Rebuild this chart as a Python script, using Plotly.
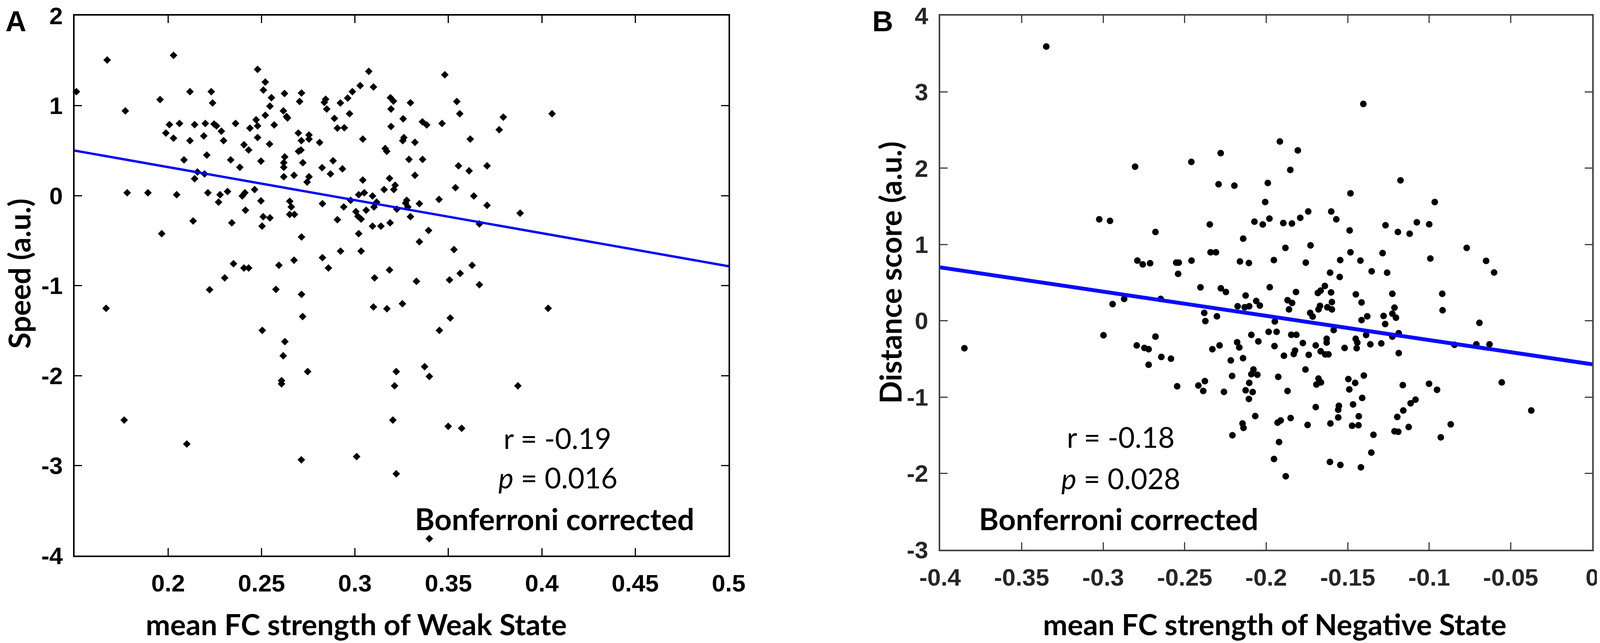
import plotly.graph_objects as go

# ---------------- panel A : mean FC strength of Weak State vs Speed ----------------
weak_fc = [
    0.1674, 0.2029, 0.2479, 0.3074, 0.2520, 0.3028, 0.3099, 0.1509, 0.2117, 0.2231,
    0.2510, 0.2623, 0.2714, 0.2986, 0.1957, 0.2553, 0.2704, 0.2843, 0.2836, 0.2961,
    0.2922, 0.2238, 0.1771, 0.2545, 0.2849, 0.2520, 0.2617, 0.2634, 0.2639, 0.2971,
    0.2890, 0.2007, 0.2061, 0.2142, 0.2199, 0.2246, 0.2259, 0.2361, 0.2438, 0.2471,
    0.2479, 0.2568, 0.2906, 0.2943, 0.1988, 0.2029, 0.2191, 0.2117, 0.2285, 0.2297,
    0.2479, 0.2697, 0.2754, 0.2754, 0.2713, 0.2811, 0.3042, 0.2543, 0.2406, 0.2431,
    0.2698, 0.2711, 0.3162, 0.3170, 0.2207, 0.2085, 0.2335, 0.2497, 0.2624, 0.2619,
    0.2619, 0.2721, 0.2883, 0.2384, 0.2824, 0.2933, 0.2869, 0.2142, 0.2157, 0.2195,
    0.2619, 0.2674, 0.2754, 0.2744, 0.3042, 0.3156, 0.2463, 0.1781, 0.1892, 0.2046,
    0.2213, 0.2278, 0.2318, 0.2397, 0.2411, 0.3020, 0.3050, 0.3094, 0.2270, 0.2497,
    0.2651, 0.2659, 0.2826, 0.2940, 0.2977, 0.3102, 0.3116, 0.3060, 0.2414, 0.3005,
    0.2651, 0.2676, 0.3016, 0.3033, 0.2509, 0.2545, 0.2503, 0.2134, 0.2341, 0.2906,
    0.3094, 0.3139, 0.1966, 0.2714, 0.3020, 0.2923, 0.3033, 0.2826, 0.2858, 0.2674,
    0.2593, 0.2350, 0.2406, 0.2431, 0.2303, 0.3105, 0.2222, 0.2577, 0.2714,
    0.3481, 0.3190, 0.3206, 0.3297, 0.3545, 0.3193, 0.3561, 0.4055, 0.3258, 0.3794,
    0.3361, 0.3384, 0.3466, 0.3193, 0.3772, 0.3262, 0.3256, 0.3321, 0.3617, 0.3289,
    0.3362, 0.3554, 0.3611, 0.3707, 0.3321, 0.3185, 0.3215, 0.3208, 0.3538, 0.3636,
    0.3450, 0.3277, 0.3271, 0.3345, 0.3283, 0.3224, 0.3707, 0.3884, 0.3297, 0.3188,
    0.3666, 0.3394, 0.3345, 0.3530, 0.3627, 0.3185, 0.3329, 0.3506, 0.3563, 0.3666,
    0.1668, 0.3099, 0.3171, 0.3254, 0.4034, 0.2720, 0.3510, 0.2504, 0.3452, 0.2625,
    0.2616, 0.3373, 0.2747, 0.3221, 0.3398, 0.2607, 0.2607, 0.3212, 0.3872, 0.1765,
    0.3203, 0.3499, 0.3571, 0.2100, 0.2713, 0.3009, 0.3221, 0.3398,
]
speed = [
    1.506, 1.559, 1.402, 1.381, 1.261, 1.222, 1.207, 1.155, 1.155, 1.155,
    1.172, 1.134, 1.140, 1.155, 1.067, 1.088, 1.046, 1.071, 1.036, 1.084,
    1.029, 1.029, 0.941, 0.994, 0.962, 0.893, 0.941, 0.879, 0.862, 0.910,
    0.858, 0.789, 0.801, 0.789, 0.801, 0.795, 0.774, 0.801, 0.749, 0.843,
    0.774, 0.785, 0.749, 0.754, 0.695, 0.638, 0.663, 0.611, 0.716, 0.611,
    0.645, 0.695, 0.674, 0.628, 0.611, 0.590, 0.628, 0.573, 0.565, 0.506,
    0.492, 0.506, 0.523, 0.492, 0.450, 0.397, 0.397, 0.383, 0.429, 0.366,
    0.314, 0.366, 0.387, 0.314, 0.310, 0.297, 0.241, 0.188, 0.262, 0.241,
    0.209, 0.226, 0.209, 0.151, 0.172, 0.067, 0.067, 0.031, 0.031, 0.010,
    0.031, 0.010, 0.046, -0.004, 0.031, 0.010, 0.031, -0.004, -0.073, -0.059,
    -0.063, -0.126, -0.090, -0.126, -0.052, -0.126, -0.073, -0.163, -0.163, -0.178,
    -0.209, -0.209, -0.230, -0.261, -0.234, -0.247, -0.339, -0.282, -0.303, -0.268,
    -0.339, -0.339, -0.423, -0.460, -0.423, -0.617, -0.617, -0.690, -0.805, -0.718,
    -0.774, -0.757, -0.805, -0.805, -0.914, -0.914, -1.046, -1.042, -1.098,
    1.343, 1.088, 1.050, 1.031, 1.046, 0.962, 0.910, 0.910, 0.854, 0.872,
    0.820, 0.785, 0.801, 0.768, 0.732, 0.644, 0.611, 0.592, 0.628, 0.402,
    0.402, 0.331, 0.276, 0.331, 0.226, 0.192, 0.115, 0.067, 0.088, -0.004,
    -0.042, -0.052, -0.084, -0.090, -0.126, -0.151, -0.109, -0.195, -0.234, -0.303,
    -0.314, -0.387, -0.513, -0.600, -0.774, -0.826, -0.952, -0.937, -0.864, -0.990,
    -1.253, -1.238, -1.257, -1.202, -1.253, -1.344, -1.360, -1.498, -1.498, -1.623,
    -1.780, -1.901, -1.956, -1.956, -2.010, -2.056, -2.092, -2.114, -2.114, -2.495,
    -2.495, -2.564, -2.586, -2.760, -2.936, -2.900, -3.091, -3.812,
]
fit_a_x = [0.15, 0.5]
fit_a_y = [0.50, -0.785]

# ---------------- panel B : mean FC strength of Negative State vs Distance score ----------------
neg_fc = [
    -0.3349, -0.1404, -0.1916, -0.1806, -0.2279, -0.2459, -0.2804, -0.1852, -0.1176, -0.2292,
    -0.2195, -0.1990, -0.1483, -0.2006, -0.0966, -0.1742, -0.1601, -0.3024, -0.2958, -0.1980,
    -0.1791, -0.1570, -0.2346, -0.2072, -0.2021, -0.1895, -0.1842, -0.1268, -0.1076, -0.1000,
    -0.2679, -0.1488, -0.1192, -0.1120, -0.2141,
    -0.2341, -0.2308, -0.2790, -0.2757, -0.2712, -0.2552, -0.2536, -0.2540, -0.2458, -0.2161,
    -0.2106, -0.2403, -0.2278, -0.2247, -0.2126, -0.2061, -0.2039, -0.2871, -0.2942, -0.2647,
    -0.2175, -0.2132, -0.2104, -0.2380, -0.2373, -0.2302, -0.2998, -0.2679, -0.2794, -0.2747,
    -0.2721, -0.2643, -0.2584, -0.2721, -0.3851, -0.2330, -0.2286, -0.2178, -0.2165, -0.2091,
    -0.2048, -0.2217, -0.2142, -0.2078, -0.2091, -0.2054, -0.2209, -0.2104, -0.2546, -0.2416,
    -0.2376, -0.2386, -0.2259, -0.2126, -0.2083, -0.2106, -0.2067, -0.2145, -0.2139, -0.2207,
    -0.1882, -0.1728, -0.0770, -0.1953, -0.1757, -0.1546, -0.1483, -0.1422, -0.1286, -0.0993,
    -0.0651, -0.0602, -0.1608, -0.1549, -0.1353, -0.1258, -0.1978, -0.1817, -0.1683, -0.1666,
    -0.1640, -0.1602, -0.1450, -0.1226, -0.0920, -0.1869, -0.1841, -0.1860, -0.1730, -0.1715,
    -0.1679, -0.1670, -0.1625, -0.1597, -0.1597, -0.1415, -0.1213, -0.1226, -0.1204, -0.1280,
    -0.1270, -0.1415, -0.1380, -0.0918, -0.0692, -0.1947, -0.1985, -0.1936, -0.1846, -0.1815,
    -0.1586, -0.1387, -0.1187, -0.1226, -0.1949, -0.1775, -0.1696, -0.1629, -0.1629, -0.1666,
    -0.1638, -0.1618, -0.1519, -0.1451, -0.1441, -0.1445, -0.1361, -0.1294, -0.1187, -0.1891,
    -0.1831, -0.1823, -0.1739, -0.0845, -0.0711, -0.0630, -0.1759, -0.1926, -0.1679, -0.1692,
    -0.1664, -0.1496, -0.1454, -0.1401, -0.1490, -0.1869, -0.1411, -0.1162, -0.1001, -0.0952,
    -0.0555, -0.1696, -0.1554, -0.1558, -0.1558, -0.1467, -0.1432, -0.1473, -0.1434, -0.1606,
    -0.1746, -0.1850, -0.1930, -0.1911, -0.1921, -0.1952, -0.1880, -0.1609, -0.1545, -0.1419,
    -0.1355, -0.1342, -0.1213, -0.1190, -0.1196, -0.1159, -0.1114, -0.1084, -0.1126, -0.0929,
    -0.0868, -0.0374,
]
distance = [
    3.594, 2.842, 2.350, 2.233, 2.198, 2.082, 2.020, 1.977, 1.841, 1.790,
    1.771, 1.806, 1.670, 1.557, 1.557, 1.433, 1.433, 1.330, 1.310, 1.339,
    1.349, 1.330, 1.262, 1.300, 1.262, 1.281, 1.275, 1.252, 1.291, 1.265,
    1.164, 1.184, 1.164, 1.141, 1.077,
    0.898, 0.898, 0.789, 0.739, 0.755, 0.762, 0.762, 0.615, 0.789, 0.778,
    0.757, 0.438, 0.426, 0.377, 0.331, 0.259, 0.200, 0.286, 0.218, 0.286,
    0.191, 0.177, 0.191, 0.104, -0.004, 0.059, -0.190, -0.208, -0.322, -0.356,
    -0.372, -0.474, -0.496, -0.576, -0.360, -0.372, -0.322, -0.281, -0.349, -0.184,
    -0.270, -0.519, -0.490, -0.639, -0.700, -0.707, -0.723, -0.814, -0.859, -0.848,
    -0.791, -0.920, -0.932, -0.911, -0.934, -1.025, -1.249, -1.346, -1.403, -1.501,
    0.955, 0.989, 0.955, 0.796, 0.762, 0.796, 0.898, 0.789, 0.887, 0.816,
    0.785, 0.633, 0.630, 0.574, 0.649, 0.630, 0.440, 0.377, 0.365, 0.395,
    0.456, 0.372, 0.347, 0.354, 0.354, 0.270, 0.234, 0.150, 0.104, 0.055,
    0.150, 0.195, 0.177, 0.245, 0.150, 0.240, 0.172, 0.093, 0.041, 0.064,
    -0.043, 0.009, 0.059, 0.138, -0.027, -0.009, -0.145, -0.145, -0.183, -0.183,
    -0.122, -0.186, -0.163, -0.208, -0.331, -0.292, -0.322, -0.236, -0.285, -0.399,
    -0.440, -0.440, -0.356, -0.236, -0.285, -0.360, -0.308, -0.297, -0.424, -0.458,
    -0.435, -0.390, -0.446, -0.315, -0.308, -0.308, -0.639, -0.734, -0.757, -0.836,
    -0.807, -0.764, -0.814, -0.718, -0.900, -0.920, -1.011, -0.843, -0.825, -0.904,
    -0.807, -1.131, -1.115, -1.165, -1.267, -1.097, -1.251, -1.376, -1.369, -1.346,
    -1.365, -1.274, -1.335, -1.306, -1.589, -1.811, -2.038, -1.850, -1.890, -1.920,
    -1.727, -1.494, -1.448, -1.455, -1.260, -1.176, -1.081, -1.034, -1.392, -1.528,
    -1.358, -1.176,
]
fit_b_x = [-0.4, 0.0]
fit_b_y = [0.70, -0.57]

# tick labels
a_xticks = [0.2, 0.25, 0.3, 0.35, 0.4, 0.45, 0.5]
a_xtext = ["0.2", "0.25", "0.3", "0.35", "0.4", "0.45", "0.5"]
a_yticks = [2, 1, 0, -1, -2, -3, -4]
a_ytext = ["2", "1", "0", "-1", "-2", "-3", "-4"]
b_xticks = [-0.4, -0.35, -0.3, -0.25, -0.2, -0.15, -0.1, -0.05, 0]
b_xtext = ["-0.4", "-0.35", "-0.3", "-0.25", "-0.2", "-0.15", "-0.1", "-0.05", "0"]
b_yticks = [4, 3, 2, 1, 0, -1, -2, -3]
b_ytext = ["4", "3", "2", "1", "0", "-1", "-2", "-3"]

# The browser viewport is 4096x1647.  Positions are written in the
# 4328x1647 reference pixels and squeezed to the viewport width.  The page
# body keeps its 8 px margin at top/left, so the figure fills the rest.
REF_W = 4328
VIEW_W, VIEW_H, BODY = 4096, 1647, 8
SX = VIEW_W / REF_W
W, H = VIEW_W - BODY, VIEW_H - BODY
TICKFONT = "Liberation Sans, Arial, sans-serif"
TEXTFONT = "Lato, Open Sans, sans-serif"


def px(x):
    # reference pixel -> paper fraction
    return (x * SX - BODY) / W


def py(y):
    return 1 - (y - BODY) / H


fig = go.Figure()

fig.add_trace(go.Scatter(
    x=weak_fc, y=speed, mode="markers", xaxis="x", yaxis="y",
    marker=dict(symbol="diamond", size=15, color="black"),
    cliponaxis=False, showlegend=False))
fig.add_trace(go.Scatter(
    x=fit_a_x, y=fit_a_y, mode="lines", xaxis="x", yaxis="y",
    line=dict(color="#0000ff", width=6), showlegend=False))

fig.add_trace(go.Scatter(
    x=neg_fc, y=distance, mode="markers", xaxis="x2", yaxis="y2",
    marker=dict(symbol="circle", size=17, color="black"),
    showlegend=False))
fig.add_trace(go.Scatter(
    x=fit_b_x, y=fit_b_y, mode="lines", xaxis="x2", yaxis="y2",
    line=dict(color="#0a0aff", width=10), showlegend=False))


def axis_style(color, labelcolor):
    return dict(
        showline=True, linecolor=color, linewidth=4, mirror="ticks",
        ticks="inside", ticklen=19, tickwidth=3, tickcolor=color,
        showgrid=False, zeroline=False, ticklabelstandoff=14, automargin=False,
        ticklabeloverflow="allow",
        tickfont=dict(family=TICKFONT, size=62, color=labelcolor, weight="bold"),
    )


fig.update_layout(
    width=W, height=H,
    margin=dict(l=0, r=0, t=0, b=0, autoexpand=False),
    paper_bgcolor="white", plot_bgcolor="white",
    xaxis=dict(domain=[px(202), px(1971)], range=[0.15, 0.5], anchor="y",
               tickmode="array", tickvals=a_xticks, ticktext=a_xtext,
               **axis_style("black", "black")),
    yaxis=dict(domain=[py(1423), py(40)], range=[-4, 2], anchor="x",
               tickmode="array", tickvals=a_yticks, ticktext=a_ytext,
               **axis_style("black", "black")),
    xaxis2=dict(domain=[px(2543), px(4307)], range=[-0.4, 0], anchor="y2",
                tickmode="array", tickvals=b_xticks, ticktext=b_xtext,
                **axis_style("#404040", "#262626")),
    yaxis2=dict(domain=[py(1408), py(40)], range=[-3, 4], anchor="x2",
                tickmode="array", tickvals=b_yticks, ticktext=b_ytext,
                **axis_style("#404040", "#262626")),
)

# text: panel letters, axis titles, statistics
notes = [
    ("A", 43, 54, TICKFONT, 74, "bold", 0),
    ("B", 2388, 54, TICKFONT, 74, "bold", 0),
    ("Speed (a.u.)", 52, 701, TEXTFONT, 76, "bold", -90),
    ("Distance score (a.u.)", 2407, 698, TEXTFONT, 76, "bold", -90),
    ("mean FC strength of Weak State", 964, 1598, TEXTFONT, 75, "bold", 0),
    ("mean FC strength of Negative State", 3448, 1598, TEXTFONT, 75, "bold", 0),
    ("r = -0.19", 1508, 1122, TEXTFONT, 73, "normal", 0),
    ("<i>p</i> = 0.016", 1509, 1223, TEXTFONT, 73, "normal", 0),
    ("Bonferroni corrected", 1500, 1328, TEXTFONT, 77, "bold", 0),
    ("r = -0.18", 3032, 1119, TEXTFONT, 73, "normal", 0),
    ("<i>p</i> = 0.028", 3032, 1225, TEXTFONT, 73, "normal", 0),
    ("Bonferroni corrected", 3026, 1328, TEXTFONT, 77, "bold", 0),
]
for text, x, y, fam, size, weight, angle in notes:
    fig.add_annotation(
        text=text, x=px(x), y=py(y), xref="paper", yref="paper",
        xanchor="center", yanchor="middle", showarrow=False, textangle=angle,
        font=dict(family=fam, size=size, color="black", weight=weight))

fig.write_html("out.html")
